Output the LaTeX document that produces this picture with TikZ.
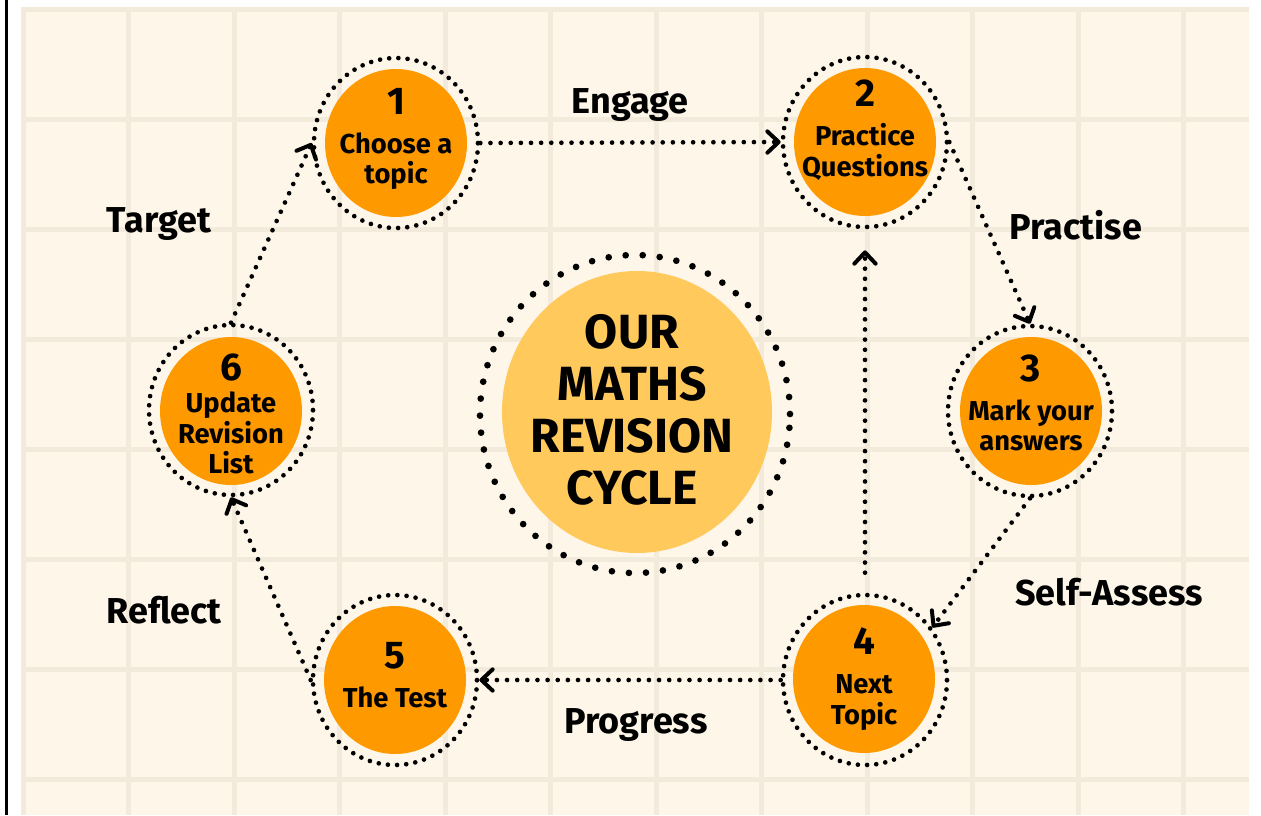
\documentclass[tikz,border=0pt]{standalone}
\usepackage{fontspec}
\setmainfont{Fira Sans}
\usetikzlibrary{shapes.geometric,arrows.meta}
\definecolor{cream}{HTML}{FDF6E9}
\definecolor{gridc}{HTML}{F2EADB}
\definecolor{stepor}{HTML}{FF9900}
\definecolor{hubor}{HTML}{FFC95C}
\begin{document}
\begin{tikzpicture}[x=0.75pt,y=-0.75pt,
  ring/.style={ellipse,draw=black,line width=3.5pt,dash pattern=on 0pt off 6.9pt,line cap=round,minimum width=123pt,minimum height=127.5pt,inner sep=0pt},
  disc/.style={ellipse,fill=stepor,minimum width=106.5pt,minimum height=111pt,inner sep=0pt},
  steptext/.style={align=center,font=\fontsize{20.5}{23}\selectfont\bfseries,text=black},
  flow/.style={draw=black,line width=3.5pt,dash pattern=on 0pt off 7.6pt,line cap=round,-{Straight Barb[length=8.5pt,width=16pt,line width=3pt,round]}},
  lbl/.style={font=\fontsize{27}{30}\selectfont\bfseries,anchor=base,text=black}
]
\useasboundingbox (0,0) rectangle (1261,815);
\fill[white] (0,0) rectangle (1261,815);
\draw[line width=2.25pt] (6.5,0) -- (6.5,815);
\fill[cream] (21,7) rectangle (1249,815);
\foreach \k in {0,...,11} \draw[gridc,line width=3.75pt] ({23.5+105.45*\k},7) -- ({23.5+105.45*\k},815);
\foreach \k in {0,...,7} \draw[gridc,line width=3.75pt] (21,{9.5+110*\k}) -- (1249,{9.5+110*\k});

% hub
\node[ring,minimum width=232.5pt,minimum height=238.5pt,line width=5pt,dash pattern=on 0pt off 12.8pt] (hub) at (635,414) {};
\node[disc,fill=hubor,minimum width=202.5pt,minimum height=211.5pt] (hubdisc) at (637,412) {};
\node[align=center,font=\fontsize{36}{39}\selectfont\bfseries] (title) at (632,410) {OUR\\MATHS\\REVISION\\CYCLE};

% steps
\node[ring] (r1) at (396,143) {};
\node[disc] (d1) at (396,143) {};
\node[steptext] (t1) at (396,139) {{\fontsize{29}{30}\selectfont 1}\\[6pt]Choose a\\topic};

\node[ring] (r2) at (865,142) {};
\node[disc] (d2) at (865,142) {};
\node[steptext] (t2) at (865,130) {{\fontsize{29}{30}\selectfont 2}\\[6pt]Practice\\Questions};

\node[ring] (r3) at (1030,411) {};
\node[disc] (d3) at (1031,411) {};
\node[steptext] (t3) at (1031,403) {{\fontsize{29}{30}\selectfont 3}\\[6pt]Mark your\\answers};

\node[ring] (r4) at (865,680) {};
\node[disc] (d4) at (864,679) {};
\node[steptext] (t4) at (864,679) {{\fontsize{29}{30}\selectfont 4}\\[6pt]Next\\Topic};

\node[ring] (r5) at (395,680) {};
\node[disc] (d5) at (395,680) {};
\node[steptext] (t5) at (395,675) {{\fontsize{29}{30}\selectfont 5}\\[6pt]The Test};

\node[ring] (r6) at (231,410) {};
\node[disc] (d6) at (231,411) {};
\node[steptext] (t6) at (231,414) {{\fontsize{29}{30}\selectfont 6}\\[1pt]Update\\Revision\\List};

% labels
\node[lbl] (lE) at (630,113) {Engage};
\node[lbl] (lPr) at (1076,239) {Practise};
\node[lbl] (lS) at (1109,605) {Self-Assess};
\node[lbl] (lPg) at (636,733) {Progress};
\node[lbl] (lR) at (164,623) {Reflect};
\node[lbl] (lT) at (159,232) {Target};

% connectors
\draw[flow] (r1.east) -- (r2.west);
\draw[flow] (r2.east) -- (r3.north);
\draw[flow] (r3.south) -- (r4.38);
\draw[flow] (r4.west) -- (r5.east);
\draw[flow] (r5.west) -- (r6.south);
\draw[flow] (r6.north) -- (r1.west);
\draw[flow,shorten <=15pt,shorten >=15.75pt] (r4.north) -- (r2.south);
\end{tikzpicture}
\end{document}
